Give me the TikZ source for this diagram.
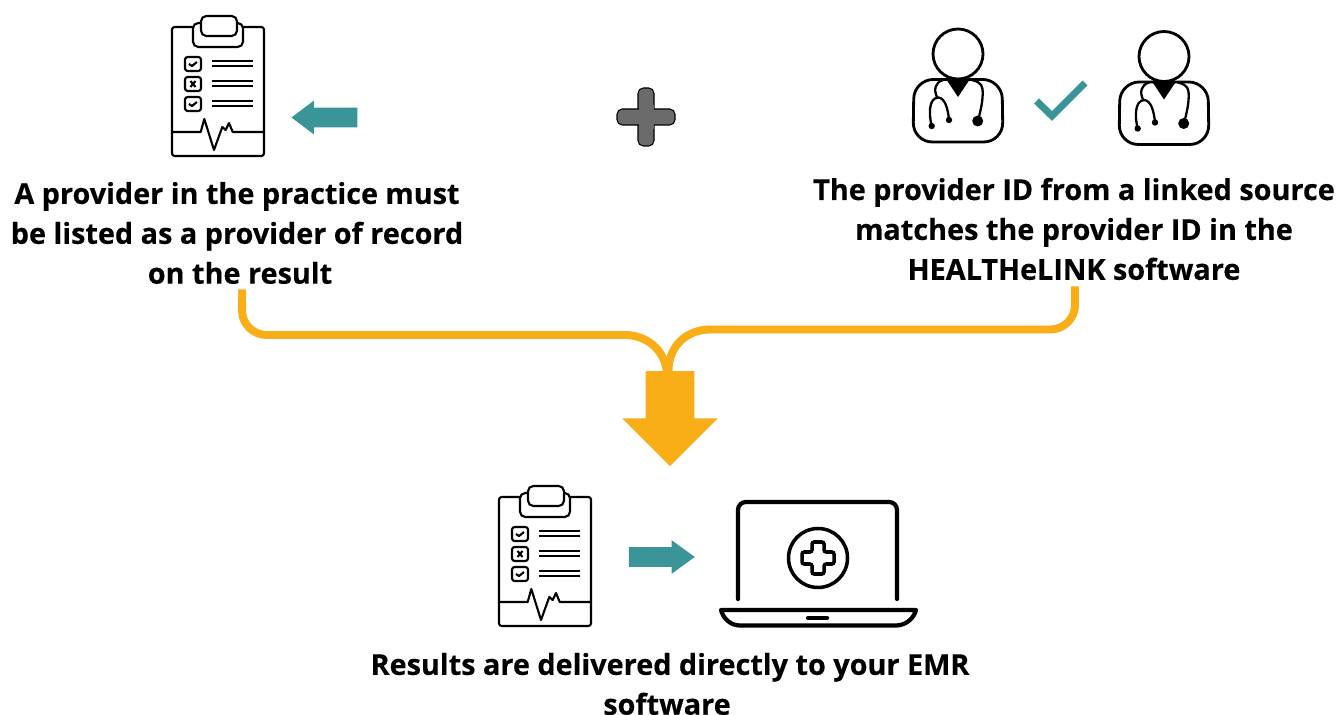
\documentclass[tikz,border=0pt]{standalone}
\usepackage{fontspec}
\setmainfont{Open Sans}[BoldFeatures={FakeBold=0.3}]
\usetikzlibrary{shapes.arrows}
\definecolor{tealarrow}{HTML}{3A9598}
\definecolor{amberflow}{HTML}{F9AE17}
\definecolor{plusgray}{HTML}{6B6B6B}
\begin{document}
\begin{tikzpicture}[
        x=0.02cm, y=-0.02cm,
        % Style for the bold captions
        caption/.style={font=\fontsize{16.4pt}{22.7pt}\selectfont\bfseries, align=center, inner sep=0pt},
        % Style for the teal arrows
        smallarrow/.style={single arrow, fill=tealarrow, inner xsep=0pt, inner ysep=0.19cm, minimum height=1.32cm, single arrow head extend=0.14cm, single arrow tip angle=74},
        % Style for the amber lines
        flowline/.style={draw=amberflow, line width=4.5pt},
        % Styles for the icons
        thinink/.style={draw=black, line width=1.2pt, line join=round},
        thickink/.style={draw=black, line width=2.4pt, line cap=round, line join=round},
        % Clipboard icon, origin in its middle
        clipboard/.pic={
            \draw[thinink, rounded corners=1.5pt] (-46,-59) rectangle (46,70);
            \draw[thinink, rounded corners=3pt, fill=white] (-25,-63) rectangle (25,-39);
            \draw[thinink, rounded corners=3pt, fill=white] (-17,-70) rectangle (19,-50);
            \foreach \rowy in {-22,-2,18} {
                \draw[thinink, rounded corners=1.5pt] (-33,\rowy-7) rectangle (-17,\rowy+7);
                \draw[draw=black, line width=0.9pt] (-6,\rowy-3) -- (35,\rowy-3) (-6,\rowy+2) -- (35,\rowy+2);
            }
            \draw[thinink] (-29,-22) -- (-26,-20) -- (-21,-24);
            \draw[thinink] (-27.5,-5) -- (-22.5,1) (-27.5,1) -- (-22.5,-5);
            \draw[thinink] (-29,18) -- (-26,20) -- (-21,16);
            \draw[thinink] (-46,46) -- (-17.3,46) -- (-13.7,33) -- (-4,64) -- (4.3,41) -- (7.7,44) -- (11,37) -- (14.7,46) -- (46,46);
        },
        % Doctor icon, origin in the middle of the head
        doctor/.pic={
            \draw[line width=1.6pt] (0,0) circle (25);
            \draw[line width=1.6pt, rounded corners=11pt] (0,25.5) -- (-44,25.5) -- (-45,88) -- (45,88) -- (44,25.5) -- cycle;
            \fill (-12,25) -- (12,25) -- (0,43) -- cycle;
            \draw[line width=1.3pt] (13.7,26) .. controls (24,28) and (25,33) .. (24.7,40) .. controls (24.5,50) and (22,58) .. (20.3,66);
            \draw[line width=1.3pt] (-14.7,26) .. controls (-23,28) and (-24.5,36) .. (-21,43);
            \draw[line width=1.3pt] (-26.3,72) .. controls (-29,62) and (-30,44) .. (-19.7,43.5) .. controls (-13,44) and (-10,55) .. (-9,66);
            \fill (19.7,67) circle (5.5);
            \fill (-26.3,72) circle (3.2);
            \fill (-9,66) circle (3.2);
        }
    ]
    \useasboundingbox (0,0) rectangle (1338,715);

    % --- Top row: clipboard, plus sign, two doctors ---
    \pic (clipone) at (218,86) {clipboard};
    \node[smallarrow, rotate=180] (backarrow) at (331,117.5) {};

    \draw[draw=black, line width=0.6pt, fill=plusgray, rounded corners=3pt] (638,88) rectangle (654,146);
    \draw[draw=black, line width=0.6pt, fill=plusgray, rounded corners=3pt] (617,109) rectangle (675,125);
    \fill[plusgray] (638.5,105) rectangle (653.5,129);

    \pic (docone) at (958,54) {doctor};
    \pic (doctwo) at (1164,56.5) {doctor};
    \draw[draw=tealarrow, line width=4pt] (1036.5,101) -- (1052,116) -- (1085,83);

    % --- Captions ---
    \node[caption] (leftnote) at (237,233) {A provider in the practice must\\be listed as a provider of record\\\hspace*{0.12cm}on the result};
    \node[caption] (rightnote) at (1074,229) {The provider ID from a linked source\\matches the provider ID in the\\HEALTHeLINK software};
    \node[caption] (bottomnote) at (670,684) {Results are delivered directly to your EMR\\software\hspace*{0.12cm}};

    % --- Amber lines and big arrow ---
    \coordinate (leftbend) at (625,335);
    \coordinate (rightbend) at (710,329.5);
    \coordinate (mergeleft) at (667,372);
    \coordinate (mergeright) at (668.5,372);
    \draw[flowline, rounded corners=14pt] ([shift={(5,5)}]leftnote.south) |- (leftbend);
    \draw[flowline] (leftbend) .. controls (645,335) and (664,348) .. (mergeleft);
    \draw[flowline, rounded corners=14pt] ([shift={(1,6)}]rightnote.south) |- (rightbend);
    \draw[flowline] (rightbend) .. controls (688,329.5) and (668,345) .. (mergeright);
    \node[single arrow, fill=amberflow, inner xsep=0pt, inner ysep=0.48cm, minimum height=1.9cm, single arrow head extend=0.47cm, single arrow tip angle=90, rotate=-90] (bigarrow) at (670,406.5) {};

    % --- Bottom row: clipboard, arrow, laptop ---
    \pic (cliptwo) at (545,556) {clipboard};
    \node[smallarrow, single arrow tip angle=72] (nextarrow) at (655,557) {};

    \draw[thickink, rounded corners=4.5pt] (738,599) -- (738,502) -- (897,502) -- (897,599);
    \draw[thickink] (721,610) -- (916,610) .. controls (914,618) and (906,625.5) .. (896,625.5) -- (740,625.5) .. controls (730,625.5) and (723,618) .. (721,610) -- cycle;
    \draw[thickink] (808,618) -- (827,618);
    \node[circle, draw=black, line width=2pt, minimum size=1.18cm, inner sep=0pt] (medbadge) at (818,558) {};
    \draw[draw=black, line width=2pt, rounded corners=1.2pt] (812,542) -- (824,542) -- (824,552) -- (834,552) -- (834,564) -- (824,564) -- (824,574) -- (812,574) -- (812,564) -- (802,564) -- (802,552) -- (812,552) -- cycle;
\end{tikzpicture}
\end{document}
